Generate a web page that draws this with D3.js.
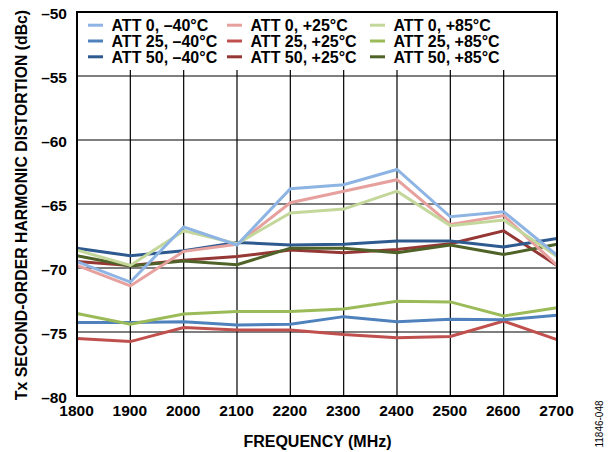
<!DOCTYPE html>
<html><head><meta charset="utf-8">
<script src="https://cdn.jsdelivr.net/npm/d3@7"></script>
<style>
body{margin:0;background:#fff;}
text{font-family:"Liberation Sans",Arial,sans-serif;}
</style></head>
<body><svg id="c" width="614" height="452"></svg>
<script>
const freqs=[1800,1900,2000,2100,2200,2300,2400,2500,2600,2700];
const yTicks=[-50,-55,-60,-65,-70,-75,-80];
const seriesNames=["ATT 0, –40°C","ATT 0, +25°C","ATT 0, +85°C","ATT 25, –40°C","ATT 25, +25°C","ATT 25, +85°C","ATT 50, –40°C","ATT 50, +25°C","ATT 50, +85°C"];
const seriesColors=["#8db4e2","#e6a09e","#c4d79b","#4f81bd","#c0504d","#9bbb59","#2f5a8f","#953735","#4f6228"];
const att0m40=[-69.5,-71.1,-66.8,-68.2,-63.8,-63.5,-62.3,-66.0,-65.6,-69.0];
const att0p25=[-69.8,-71.4,-68.7,-68.15,-64.9,-64.0,-63.1,-66.6,-65.9,-69.8];
const att0p85=[-68.6,-69.8,-67.1,-68.1,-65.7,-65.4,-64.0,-66.7,-66.25,-69.1];
const att25m40=[-74.25,-74.25,-74.2,-74.45,-74.4,-73.8,-74.2,-74.0,-74.05,-73.7];
const att25p25=[-75.5,-75.75,-74.65,-74.85,-74.85,-75.2,-75.45,-75.35,-74.15,-75.6];
const att25p85=[-73.55,-74.4,-73.6,-73.4,-73.4,-73.2,-72.6,-72.65,-73.75,-73.1];
const att50m40=[-68.45,-69.05,-68.65,-68.0,-68.2,-68.15,-67.9,-67.9,-68.35,-67.7];
const att50p25=[-69.5,-69.8,-69.4,-69.1,-68.6,-68.8,-68.55,-68.1,-67.1,-69.8];
const att50p85=[-69.05,-69.85,-69.45,-69.75,-68.45,-68.45,-68.8,-68.2,-68.95,-68.15];
const seriesValues=[att0m40,att0p25,att0p85,att25m40,att25p25,att25p85,att50m40,att50p25,att50p85];
const drawOrder=[4,3,5,7,6,8,1,2,0];

const svg=d3.select("#c");
const L=77,R=557,T=12,B=396;
const x=d3.scaleLinear().domain([1800,2700]).range([L,R]);
const y=d3.scaleLinear().domain([-80,-50]).range([B,T]);
const fmt=v=>v<0?"–"+Math.abs(v):String(v);

const g=svg.append("g");
g.selectAll(".hg").data(yTicks).enter().append("line")
 .attr("x1",L).attr("x2",R).attr("y1",d=>y(d)).attr("y2",d=>y(d))
 .attr("stroke","#000").attr("stroke-width",1.2);
g.selectAll(".vg").data(freqs).enter().append("line")
 .attr("x1",d=>x(d)).attr("x2",d=>x(d)).attr("y1",T).attr("y2",B)
 .attr("stroke","#000").attr("stroke-width",1.2);

const legTop=T+1, legBot=70;
svg.append("rect").attr("x",L+1).attr("y",legTop).attr("width",R-L-2).attr("height",legBot-legTop).attr("fill","#fff");

const line=d3.line().x((d,i)=>x(freqs[i])).y(d=>y(d));
drawOrder.forEach(k=>{
 svg.append("path").datum(seriesValues[k]).attr("d",line)
  .attr("fill","none").attr("stroke",seriesColors[k]).attr("stroke-width",3).attr("stroke-linejoin","miter");
});

svg.append("rect").attr("x",L).attr("y",T).attr("width",R-L).attr("height",B-T)
 .attr("fill","none").attr("stroke","#000").attr("stroke-width",2);

const colX=[88,227,370], rowY=[25.2,41,56.8];
seriesNames.forEach((n,i)=>{
 const col=i%3,row=Math.floor(i/3);
 const lx=colX[col], ly=rowY[row];
 svg.append("line").attr("x1",lx).attr("x2",lx+15).attr("y1",ly).attr("y2",ly)
  .attr("stroke",seriesColors[i]).attr("stroke-width",3);
 svg.append("text").attr("x",lx+23.5).attr("y",ly+5.8).text(n)
  .attr("font-size",16).attr("font-weight","bold").attr("fill","#000");
});

const yAxis=d3.axisLeft(y).tickValues(yTicks).tickSize(0).tickPadding(10).tickFormat(fmt);
const ya=svg.append("g").attr("transform",`translate(${L},0)`).call(yAxis);
ya.select(".domain").remove();
ya.selectAll("text").attr("font-size",15.5).attr("font-weight","bold").attr("font-family","Liberation Sans, Arial, sans-serif").attr("dy","0.4em");

const xAxis=d3.axisBottom(x).tickValues(freqs).tickSize(0).tickPadding(9).tickFormat(d3.format("d"));
const xa=svg.append("g").attr("transform",`translate(-1,${B})`).call(xAxis);
xa.select(".domain").remove();
xa.selectAll("text").attr("font-size",15.5).attr("font-weight","bold").attr("font-family","Liberation Sans, Arial, sans-serif");

svg.append("text").attr("x",317.5).attr("y",447).attr("text-anchor","middle")
 .attr("font-size",16).attr("font-weight","bold").text("FREQUENCY (MHz)");
svg.append("text").attr("transform",`translate(27,205) rotate(-90)`).attr("text-anchor","middle")
 .attr("font-size",15.8).attr("font-weight","bold").text("Tx SECOND-ORDER HARMONIC DISTORTION (dBc)");
svg.append("text").attr("transform",`translate(603,424) rotate(-90)`).attr("text-anchor","middle")
 .attr("font-size",10).text("11846-048");
</script></body></html>
